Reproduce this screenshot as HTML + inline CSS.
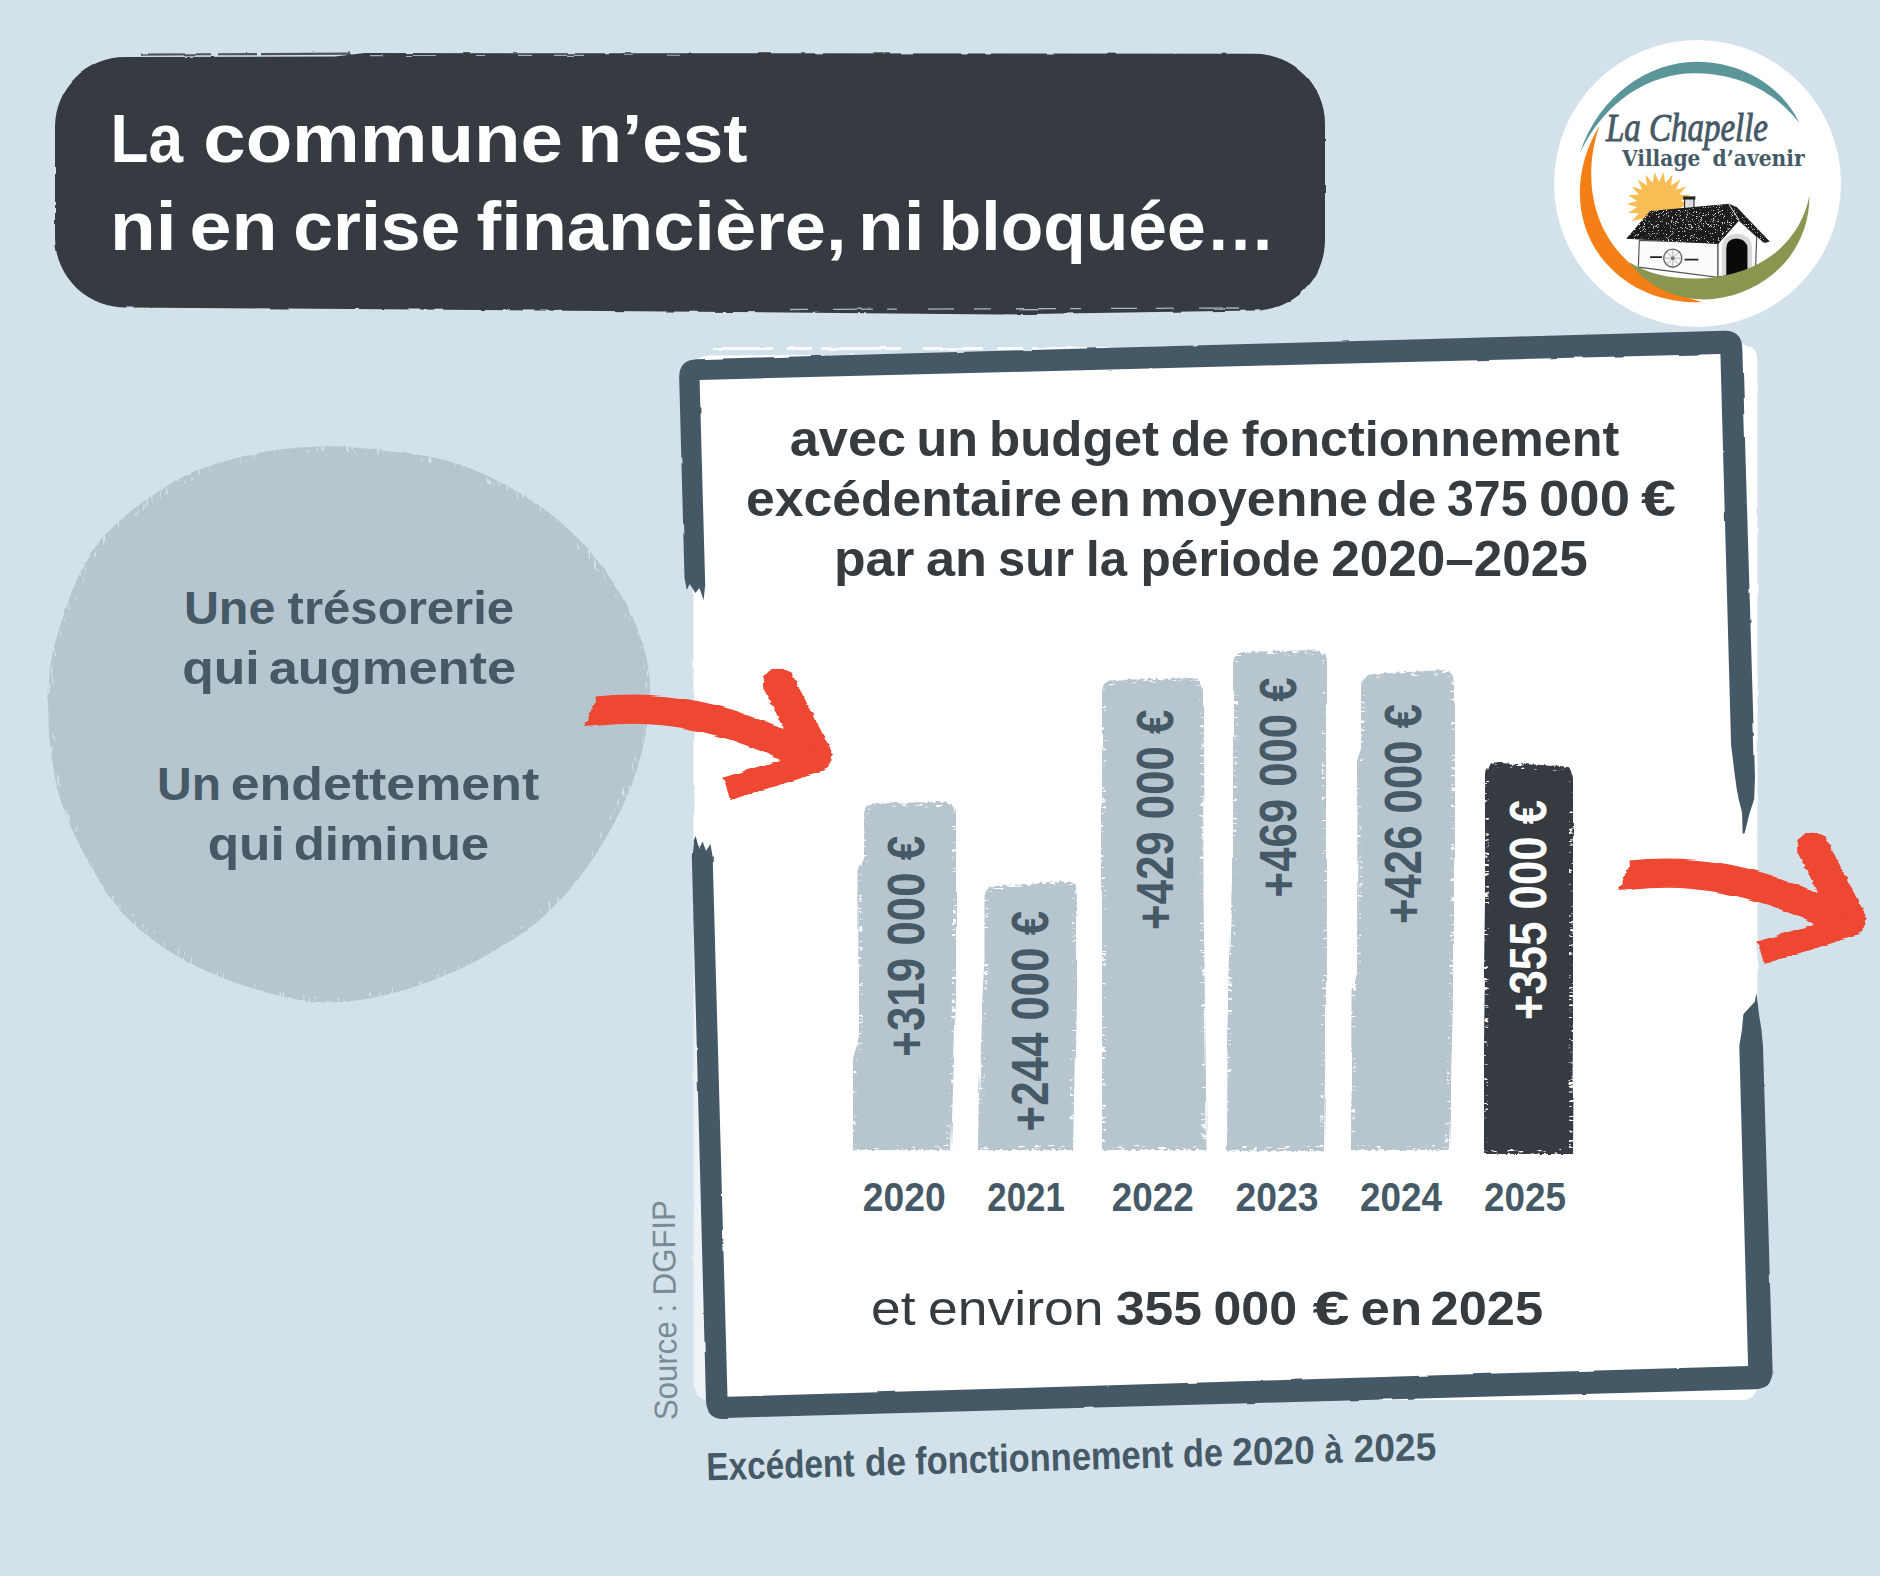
<!DOCTYPE html>
<html lang="fr"><head><meta charset="utf-8"><title>La commune n’est ni en crise financière, ni bloquée…</title>
<style>
html,body{margin:0;padding:0;background:#d3e2ea;}
body{width:1880px;height:1576px;overflow:hidden;}
svg{display:block}
text{font-family:"Liberation Sans",Arial,sans-serif;}
</style></head><body>
<svg width="1880" height="1576" viewBox="0 0 1880 1576">
<defs>
<filter id="rough" filterUnits="userSpaceOnUse" x="0" y="0" width="1880" height="1576"><feTurbulence type="fractalNoise" baseFrequency="0.05 0.05" numOctaves="3" seed="3" result="n"/><feDisplacementMap in="SourceGraphic" in2="n" scale="2.5" xChannelSelector="R" yChannelSelector="G"/></filter>
<filter id="rougharrow" filterUnits="userSpaceOnUse" x="0" y="0" width="1880" height="1576"><feTurbulence type="fractalNoise" baseFrequency="0.015 0.25" numOctaves="2" seed="11" result="n"/><feDisplacementMap in="SourceGraphic" in2="n" scale="4" xChannelSelector="R" yChannelSelector="G"/></filter>
<filter id="speck" x="0" y="0" width="100%" height="100%"><feTurbulence type="fractalNoise" baseFrequency="0.9" numOctaves="2" seed="4" result="n"/><feColorMatrix in="n" type="matrix" values="0 0 0 0 1  0 0 0 0 1  0 0 0 0 1  6 0 0 0 -3.75" result="w"/><feComposite in="w" in2="SourceGraphic" operator="in" result="ws"/><feMerge><feMergeNode in="SourceGraphic"/><feMergeNode in="ws"/></feMerge></filter>
<filter id="roughf" filterUnits="userSpaceOnUse" x="0" y="0" width="1880" height="1576"><feTurbulence type="fractalNoise" baseFrequency="0.03 0.03" numOctaves="2" seed="7" result="n"/><feDisplacementMap in="SourceGraphic" in2="n" scale="2.2" xChannelSelector="R" yChannelSelector="G"/></filter>
<filter id="dry" filterUnits="userSpaceOnUse" x="0" y="0" width="1880" height="1576">
<feTurbulence type="fractalNoise" baseFrequency="0.05 0.05" numOctaves="3" seed="3" result="n"/>
<feDisplacementMap in="SourceGraphic" in2="n" scale="2.5" xChannelSelector="R" yChannelSelector="G" result="shape"/>
<feTurbulence type="fractalNoise" baseFrequency="0.35 0.09" numOctaves="2" seed="21" result="n2"/>
<feColorMatrix in="n2" type="matrix" values="0 0 0 0 0  0 0 0 0 0  0 0 0 0 0  9 0 0 0 -5.6" result="holes"/>
<feMorphology in="shape" operator="erode" radius="5" result="core"/>
<feComposite in="holes" in2="core" operator="out" result="edgeholes"/>
<feComposite in="shape" in2="edgeholes" operator="out"/>
</filter>
<filter id="dryv" filterUnits="userSpaceOnUse" x="0" y="0" width="1880" height="1576">
<feTurbulence type="fractalNoise" baseFrequency="0.25 0.006" numOctaves="2" seed="9" result="n"/>
<feDisplacementMap in="SourceGraphic" in2="n" scale="5" xChannelSelector="R" yChannelSelector="G" result="shape"/>
<feTurbulence type="fractalNoise" baseFrequency="0.12 0.4" numOctaves="2" seed="33" result="n2"/>
<feColorMatrix in="n2" type="matrix" values="0 0 0 0 0  0 0 0 0 0  0 0 0 0 0  9 0 0 0 -5.5" result="holes"/>
<feMorphology in="shape" operator="erode" radius="4" result="core"/>
<feComposite in="holes" in2="core" operator="out" result="edgeholes"/>
<feComposite in="shape" in2="edgeholes" operator="out"/>
</filter>
</defs>
<rect width="1880" height="1576" fill="#d3e2ea"/>

<g id="title"><path d="M125 57 L335 56.5 L365 53 L1255 53.8 A70 70 0 0 1 1325 124 L1325 241 A70 70 0 0 1 1255 310.5 L1000 314.5 L700 311.7 L128 307.4 A70 70 0 0 1 55 238 L55 127 A70 70 0 0 1 125 57 Z" fill="#363b3f" filter="url(#rough)"/>
<g fill="none" filter="url(#rough)"><path d="M141 54.6 L350 53.6" stroke="#363b3f" stroke-width="2.2" stroke-dasharray="70 6 40 4 90 5" opacity=".85"/><path d="M370 55.6 L700 55.2" stroke="#d3e2ea" stroke-width="1.1" stroke-dasharray="14 22 30 40 9 33" opacity=".7"/><path d="M790 309.5 L1240 308" stroke="#d3e2ea" stroke-width="1.3" stroke-dasharray="18 25 40 14 11 30 26 19" opacity=".75"/></g>
<text y="161.5" font-size="69" fill="#fff" font-weight="700"><tspan x="110.5" textLength="72.5" lengthAdjust="spacingAndGlyphs">La</tspan> <tspan x="203.3" textLength="359.5" lengthAdjust="spacingAndGlyphs">commune</tspan> <tspan x="577.5" textLength="170.0" lengthAdjust="spacingAndGlyphs">n’est</tspan></text>
<text y="249.5" font-size="69" fill="#fff" font-weight="700"><tspan x="110.0" textLength="66.5" lengthAdjust="spacingAndGlyphs">ni</tspan> <tspan x="189.5" textLength="88.0" lengthAdjust="spacingAndGlyphs">en</tspan> <tspan x="293.3" textLength="167.0" lengthAdjust="spacingAndGlyphs">crise</tspan> <tspan x="476.5" textLength="370.0" lengthAdjust="spacingAndGlyphs">financière,</tspan> <tspan x="858.0" textLength="66.5" lengthAdjust="spacingAndGlyphs">ni</tspan> <tspan x="938.8" textLength="336.5" lengthAdjust="spacingAndGlyphs">bloquée…</tspan></text>
</g>
<g id="bubble"><path d="M317.0 446.6 C339.8 445.7 358.1 447.6 381.6 450.5 C405.1 453.4 432.4 455.2 457.8 463.8 C483.2 472.4 511.7 486.9 533.9 501.8 C556.1 516.7 574.5 533.6 591.0 553.0 C607.5 572.4 623.1 595.8 632.9 618.0 C642.7 640.2 649.4 661.2 650.0 686.5 C650.6 711.8 645.3 742.8 636.7 770.0 C628.1 797.2 613.8 825.9 598.6 850.0 C583.4 874.1 565.6 896.5 545.3 914.9 C525.0 933.3 500.9 947.8 476.8 960.5 C452.7 973.2 426.0 984.0 400.6 991.0 C375.2 998.0 349.9 1003.1 324.5 1002.4 C299.1 1001.7 273.8 995.2 248.4 987.0 C223.0 978.8 194.2 966.9 172.0 953.0 C149.8 939.1 132.1 925.0 115.0 903.4 C97.9 881.8 79.9 847.0 69.5 823.5 C59.1 800.0 55.9 784.2 52.4 762.6 C48.9 741.0 47.6 715.6 48.5 694.0 C49.4 672.4 50.1 657.7 58.0 633.0 C65.9 608.3 77.0 570.6 96.0 545.6 C115.0 520.6 147.2 497.9 172.0 483.0 C196.8 468.1 220.8 462.1 245.0 456.0 C269.2 449.9 294.2 447.5 317.0 446.6 Z" fill="#b7c5cf" filter="url(#dry)"/>
<text y="623.6" font-size="47" fill="#455966" font-weight="700"><tspan x="183.9" textLength="91.5" lengthAdjust="spacingAndGlyphs">Une</tspan> <tspan x="287.6" textLength="226.5" lengthAdjust="spacingAndGlyphs">trésorerie</tspan></text>
<text y="683.5" font-size="47" fill="#455966" font-weight="700"><tspan x="182.2" textLength="77.5" lengthAdjust="spacingAndGlyphs">qui</tspan> <tspan x="268.7" textLength="247.5" lengthAdjust="spacingAndGlyphs">augmente</tspan></text>
<text y="799.7" font-size="47" fill="#455966" font-weight="700"><tspan x="157.1" textLength="64.0" lengthAdjust="spacingAndGlyphs">Un</tspan> <tspan x="230.7" textLength="308.5" lengthAdjust="spacingAndGlyphs">endettement</tspan></text>
<text y="859.8" font-size="47" fill="#455966" font-weight="700"><tspan x="207.7" textLength="77.0" lengthAdjust="spacingAndGlyphs">qui</tspan> <tspan x="293.7" textLength="195.5" lengthAdjust="spacingAndGlyphs">diminue</tspan></text>
</g>
<g id="panel"><path d="M693.5 372 Q693.5 355.5 710 355.5 L1500 352 L1739 343.5 Q1757.5 343.5 1757.5 362 L1757.5 1383 Q1757.5 1400 1741 1400 L710 1400 Q693.5 1400 693.5 1383 Z" fill="#fff" filter="url(#rough)"/>
<path d="M713 348.5 H1330" stroke="#fff" stroke-width="3" stroke-dasharray="60 14 25 9 80 22" opacity=".85" filter="url(#rough)"/>
<path d="M689 900 L694.5 900 L708 1402 L689 1402 Z" fill="#d3e2ea" opacity=".4"/>
<g fill="#455966" filter="url(#roughf)"><path d="M684.5 578 L679.2 377.7 Q678.8 359.7 696.8 359.2 L1723.8 330.8 Q1741.8 330.3 1742.3 348.3 L1755.0 777.0 L1754.2 799.0 L1749.1 815.0 L1744.7 833.0 L1742.7 834.0 L1742.0 812.0 L1738.6 799.0 L1735.0 777.0 L1731.1 745.0 L1720.4 354.0 L699.6 379.9 L705.2 585.0 L703.6 600.0 L699.4 588.0 L695.4 593.0 L689.7 584.0 L686.8 590.0 Z"/><path d="M1763.0 1046 L1772.6 1370.7 Q1773.2 1388.7 1755.2 1389.2 L724.5 1417.9 Q706.5 1418.4 706.0 1400.4 L691.8 856.0 L692.9 842.0 L695.7 836.0 L699.1 849.0 L702.4 842.0 L706.1 852.0 L710.4 845.0 L712.7 858.0 L727.5 1396.8 L1748.1 1365.9 L1739.3 1046.0 L1741.9 1030.0 L1743.5 1015.0 L1754.6 1003.0 L1756.4 993.0 L1759.1 1015.0 L1761.5 1030.0 Z"/></g></g>
<g id="heading">
<text y="455.9" font-size="49.5" fill="#363b3f" font-weight="700"><tspan x="789.7" textLength="116.5" lengthAdjust="spacingAndGlyphs">avec</tspan> <tspan x="916.4" textLength="61.5" lengthAdjust="spacingAndGlyphs">un</tspan> <tspan x="989.0" textLength="170.0" lengthAdjust="spacingAndGlyphs">budget</tspan> <tspan x="1170.8" textLength="58.5" lengthAdjust="spacingAndGlyphs">de</tspan> <tspan x="1241.8" textLength="377.5" lengthAdjust="spacingAndGlyphs">fonctionnement</tspan></text>
<text y="516.2" font-size="49.5" fill="#363b3f" font-weight="700"><tspan x="746.0" textLength="316.0" lengthAdjust="spacingAndGlyphs">excédentaire</tspan> <tspan x="1069.8" textLength="61.0" lengthAdjust="spacingAndGlyphs">en</tspan> <tspan x="1140.0" textLength="228.0" lengthAdjust="spacingAndGlyphs">moyenne</tspan> <tspan x="1376.4" textLength="60.0" lengthAdjust="spacingAndGlyphs">de</tspan> <tspan x="1447.0" textLength="80.5" lengthAdjust="spacingAndGlyphs">375</tspan> <tspan x="1539.0" textLength="91.0" lengthAdjust="spacingAndGlyphs">000</tspan> <tspan x="1640.9" textLength="35.0" lengthAdjust="spacingAndGlyphs">€</tspan></text>
<text y="575.5" font-size="49.5" fill="#363b3f" font-weight="700"><tspan x="834.0" textLength="80.5" lengthAdjust="spacingAndGlyphs">par</tspan> <tspan x="926.0" textLength="61.0" lengthAdjust="spacingAndGlyphs">an</tspan> <tspan x="998.0" textLength="76.0" lengthAdjust="spacingAndGlyphs">sur</tspan> <tspan x="1086.0" textLength="41.0" lengthAdjust="spacingAndGlyphs">la</tspan> <tspan x="1140.6" textLength="179.0" lengthAdjust="spacingAndGlyphs">période</tspan> <tspan x="1331.2" textLength="256.5" lengthAdjust="spacingAndGlyphs">2020–2025</tspan></text>
</g>
<g id="chart">
<path fill="#b7c5cf" filter="url(#dryv)" d="M853.5 1150 L853.5 1060 L858 1045 L858.5 870 L864.5 858 L865 816 Q865 803 878 803 L943 802 Q956 802 956 815 L956 1000 L953 1090 L951 1150 Z"/>
<path fill="#b7c5cf" filter="url(#dryv)" d="M977 1150 L977.5 1110 L981 1020 L984.5 960 L984.5 899 Q984.5 886 997.5 886 L1064 881 Q1077 881 1077 894 L1077 1000 L1075 1100 L1074 1150 Z"/>
<path fill="#b7c5cf" filter="url(#dryv)" d="M1102 1150 L1102 692 Q1102 680 1115 680 L1190 678 Q1203 678 1203 691 L1203.5 900 L1206 1080 L1206.5 1150 Z"/>
<path fill="#b7c5cf" filter="url(#dryv)" d="M1226 1151 L1226.5 1050 L1230 960 L1233 880 L1233 664 Q1233 652 1246 652 L1313 650 Q1326 650 1326 663 L1326 1000 L1324 1151 Z"/>
<path fill="#b7c5cf" filter="url(#dryv)" d="M1351 1150 L1351.5 990 L1357 975 L1357.5 760 L1362 748 L1362 686 Q1362 674 1375 674 L1441 670 Q1454 670 1454 683 L1454 1000 L1452 1080 L1450 1150 Z"/>
<path fill="#363b3f" filter="url(#dryv)" d="M1484 1154 L1484 1040 L1486 900 L1486 776 Q1486 763 1499 763 L1561 766 Q1574 766 1574 779 L1574 900 L1572 1154 Z"/>
<text y="1210.5" font-size="41.2" fill="#455966" font-weight="700"><tspan x="862.8" textLength="83.0" lengthAdjust="spacingAndGlyphs">2020</tspan></text>
<text y="1210.5" font-size="41.2" fill="#455966" font-weight="700"><tspan x="987.3" textLength="77.5" lengthAdjust="spacingAndGlyphs">2021</tspan></text>
<text y="1210.5" font-size="41.2" fill="#455966" font-weight="700"><tspan x="1111.8" textLength="82.0" lengthAdjust="spacingAndGlyphs">2022</tspan></text>
<text y="1210.5" font-size="41.2" fill="#455966" font-weight="700"><tspan x="1235.6" textLength="83.0" lengthAdjust="spacingAndGlyphs">2023</tspan></text>
<text y="1210.5" font-size="41.2" fill="#455966" font-weight="700"><tspan x="1359.9" textLength="82.0" lengthAdjust="spacingAndGlyphs">2024</tspan></text>
<text y="1210.5" font-size="41.2" fill="#455966" font-weight="700"><tspan x="1483.9" textLength="82.0" lengthAdjust="spacingAndGlyphs">2025</tspan></text>
<text transform="translate(924 1054.7) rotate(-90)" y="0" font-size="51.7" fill="#455966" font-weight="700"><tspan x="-2.0" textLength="221.0" lengthAdjust="spacingAndGlyphs">+319 000 €</tspan></text>
<text transform="translate(1048.4 1129.4) rotate(-90)" y="0" font-size="51.7" fill="#455966" font-weight="700"><tspan x="-2.0" textLength="220.5" lengthAdjust="spacingAndGlyphs">+244 000 €</tspan></text>
<text transform="translate(1172.5 928) rotate(-90)" y="0" font-size="51.7" fill="#455966" font-weight="700"><tspan x="-2.0" textLength="220.5" lengthAdjust="spacingAndGlyphs">+429 000 €</tspan></text>
<text transform="translate(1296.4 895.4) rotate(-90)" y="0" font-size="51.7" fill="#455966" font-weight="700"><tspan x="-2.0" textLength="220.0" lengthAdjust="spacingAndGlyphs">+469 000 €</tspan></text>
<text transform="translate(1420.6 922) rotate(-90)" y="0" font-size="51.7" fill="#455966" font-weight="700"><tspan x="-2.0" textLength="220.0" lengthAdjust="spacingAndGlyphs">+426 000 €</tspan></text>
<text transform="translate(1546.2 1018) rotate(-90)" y="0" font-size="51.7" fill="#fff" font-weight="700"><tspan x="-2.0" textLength="220.0" lengthAdjust="spacingAndGlyphs">+355 000 €</tspan></text>
</g>
<text y="1325.1" font-size="48" fill="#363b3f"><tspan x="871.0" textLength="44.5" lengthAdjust="spacingAndGlyphs">et</tspan> <tspan x="928.0" textLength="175.5" lengthAdjust="spacingAndGlyphs">environ</tspan></text>
<text y="1325.1" font-size="48" fill="#363b3f" font-weight="700"><tspan x="1115.9" textLength="86.0" lengthAdjust="spacingAndGlyphs">355</tspan> <tspan x="1213.5" textLength="83.5" lengthAdjust="spacingAndGlyphs">000</tspan> <tspan x="1312.5" textLength="37.0" lengthAdjust="spacingAndGlyphs">€</tspan> <tspan x="1360.6" textLength="61.5" lengthAdjust="spacingAndGlyphs">en</tspan> <tspan x="1430.6" textLength="112.5" lengthAdjust="spacingAndGlyphs">2025</tspan></text>
<text transform="translate(677.3 1418) rotate(-90.7)" y="0" font-size="32.5" fill="#788b97"><tspan x="-2.0" textLength="220.0" lengthAdjust="spacingAndGlyphs">Source : DGFIP</tspan></text>
<text transform="translate(708.8 1480.2) rotate(-1.6)" y="0" font-size="39" fill="#455966" font-weight="700"><tspan x="-2.0" textLength="148.0" lengthAdjust="spacingAndGlyphs">Excédent</tspan> <tspan x="156.5" textLength="41.0" lengthAdjust="spacingAndGlyphs">de</tspan> <tspan x="206.8" textLength="258.0" lengthAdjust="spacingAndGlyphs">fonctionnement</tspan> <tspan x="474.7" textLength="40.0" lengthAdjust="spacingAndGlyphs">de</tspan> <tspan x="524.0" textLength="82.5" lengthAdjust="spacingAndGlyphs">2020</tspan> <tspan x="616.2" textLength="18.0" lengthAdjust="spacingAndGlyphs">à</tspan> <tspan x="645.5" textLength="82.5" lengthAdjust="spacingAndGlyphs">2025</tspan></text>
<g transform="translate(0 0)" fill="none" stroke="#ee4632" filter="url(#rougharrow)">
<path d="M597 711 Q705.5 699.3 812 760.5" stroke-width="29" stroke-linecap="butt"/>
<path d="M599 696.5 L592 708 L589 716 L584 727 L599 725.5 Z" fill="#ee4632" stroke="none"/>
<path d="M779 683.8 L816 756" stroke-width="32" stroke-linecap="round"/>
<path d="M726.8 788.7 L817 761" stroke-width="23.5" stroke-linecap="butt"/>
</g>
<g transform="translate(1034 164)" fill="none" stroke="#ee4632" filter="url(#rougharrow)">
<path d="M597 711 Q705.5 699.3 812 760.5" stroke-width="29" stroke-linecap="butt"/>
<path d="M599 696.5 L592 708 L589 716 L584 727 L599 725.5 Z" fill="#ee4632" stroke="none"/>
<path d="M779 683.8 L816 756" stroke-width="32" stroke-linecap="round"/>
<path d="M726.8 788.7 L817 761" stroke-width="23.5" stroke-linecap="butt"/>
</g>
<g id="logo">
<circle cx="1697.5" cy="183.5" r="143.5" fill="#fff"/>
<g transform="translate(1540 30) scale(0.19668)">
<path fill="#5a9599" d="M205 622 C300 330 560 160 800 162 C1040 164 1240 300 1318 472 C1200 320 1020 222 790 220 C560 218 330 360 205 622 Z"/>
<path fill="#f57f17" d="M302 488 C170 700 160 980 330 1180 C470 1340 660 1392 825 1384 C640 1330 480 1240 370 1090 C250 920 230 700 302 488 Z"/>
<polygon fill="#f9bd55" points="770,885 716,901 763,931 707,932 744,974 690,958 713,1010 666,979 674,1035 637,992 628,1048 605,997 582,1048 573,992 536,1035 544,979 497,1010 520,958 466,974 503,932 447,931 494,901 440,885 494,869 447,839 503,838 466,796 520,812 497,760 544,791 536,735 573,778 582,722 605,773 628,722 637,778 674,735 666,791 713,760 690,812 744,796 707,838 763,839 716,869"/>
<path fill="#fbfbfb" stroke="#555" stroke-width="6" d="M505 1070 L905 1082 L905 1258 L500 1206 Z"/>
<path fill="#fbfbfb" stroke="#555" stroke-width="6" d="M905 1085 L1010 965 L1102 1050 L1096 1208 L905 1258 Z"/>
<path fill="#d9d9d9" d="M925 1250 V1110 Q925 1040 1000 1036 Q1078 1040 1078 1110 V1212 L1055 1218 V1112 Q1053 1064 1000 1062 Q947 1064 947 1112 V1246 Z"/>
<path fill="#0a0a0a" d="M947 1248 V1112 Q947 1062 1000 1060 Q1055 1064 1055 1112 V1222 Z"/>
<rect x="735" y="852" width="48" height="62" fill="#ddd" stroke="#333" stroke-width="6"/><rect x="728" y="846" width="62" height="16" fill="#222"/>
<path fill="#1e1e1e" filter="url(#speck)" d="M438 1062 L560 920 L960 884 L1000 900 L1168 1075 L1140 1084 L1012 968 L905 1088 Z"/>
<path fill="none" stroke="#eee" stroke-width="5" d="M960 886 L1012 966"/>
<circle cx="675" cy="1160" r="46" fill="#f4f4f4" stroke="#666" stroke-width="7"/><circle cx="675" cy="1160" r="8" fill="#333"/>
<path stroke="#888" stroke-width="3" d="M675 1114V1206M629 1160H721M642 1127L708 1193M708 1127L642 1193"/>
<path stroke="#222" stroke-width="9" d="M560 1155 H620 M735 1168 H805"/>
<path fill="#8a9650" d="M452 1180 C560 1250 700 1270 840 1262 C1100 1245 1320 1100 1370 842 C1372 1130 1150 1340 880 1368 C700 1385 540 1300 452 1180 Z"/>
</g>
<g stroke="#455966" stroke-width="0.9">
<text y="140.6" font-size="39.5" fill="#455966" font-style="italic" style="font-family:'Liberation Serif',serif"><tspan x="1606.0" textLength="162.0" lengthAdjust="spacingAndGlyphs">La Chapelle</tspan></text>
</g>
<text y="165.7" font-size="22.6" fill="#455966" font-weight="700" style="font-family:'DejaVu Serif',serif"><tspan x="1621.9" textLength="78.5" lengthAdjust="spacingAndGlyphs">Village</tspan> <tspan x="1712.6" textLength="92.0" lengthAdjust="spacingAndGlyphs">d’avenir</tspan></text>
</g>
</svg></body></html>
